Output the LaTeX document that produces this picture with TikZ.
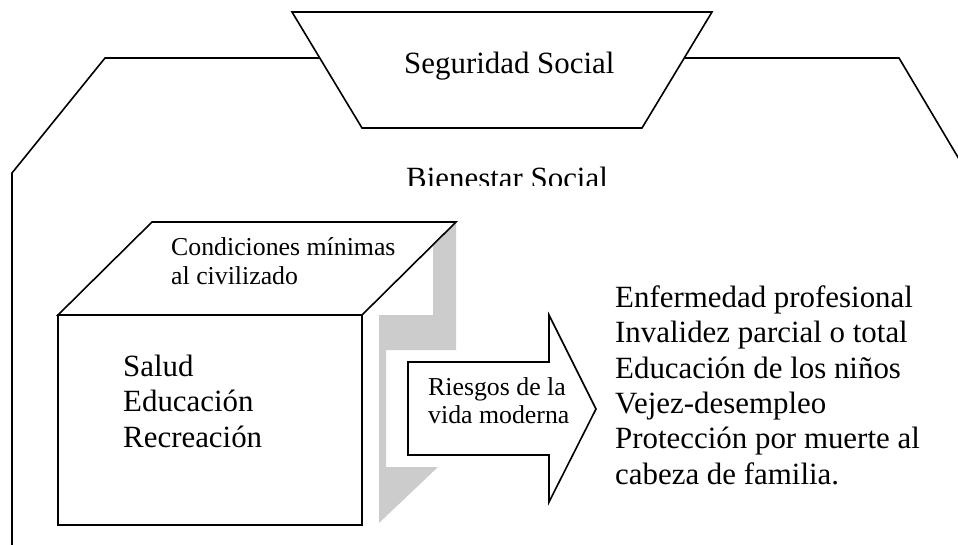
\documentclass[tikz,border=0pt]{standalone}
\usepackage{fontspec}
\setmainfont{Liberation Serif}
\definecolor{shadegray}{RGB}{204,204,204}
\begin{document}
\begin{tikzpicture}[x=1pt,y=-1pt,
  outline/.style={draw=black,line width=1.6pt,line join=miter},
  bigtxt/.style={anchor=base west,inner sep=0pt,font=\fontsize{30.9}{35.5}\selectfont},
  smalltxt/.style={anchor=base west,inner sep=0pt,font=\fontsize{25.8}{28.5}\selectfont}]
\useasboundingbox (0,0) rectangle (958,545);
\clip (0,0) rectangle (958,545);
% trapezoid corners
\coordinate (tTL) at (292,12);
\coordinate (tTR) at (712,12);
\coordinate (tBR) at (642,128);
\coordinate (tBL) at (362,128);
% outer frame
\coordinate (oB) at (12,545);
\coordinate (oL) at (12,173);
\coordinate (oTL) at (105,58);
\coordinate (oTR) at (899,58);
\coordinate (oR) at (978,191);
\draw[outline] (oB) -- (oL) -- (oTL) -- (intersection of tTL--tBL and oTL--oTR);
\draw[outline] (intersection of tTR--tBR and oTL--oTR) -- (oTR) -- (oR);
\draw[outline,fill=white] (tTL) -- (tTR) -- (tBR) -- (tBL) -- cycle;
\node[bigtxt] (seg) at (404,74) {Seguridad Social};
\begin{scope}
  \clip (0,0) rectangle (958,186);
  \node[bigtxt] (bien) at (406,189) {Bienestar Social};
\end{scope}
% shadow
\fill[shadegray] (456,222) -- (456,350) -- (386,350) -- (386,467) -- (438,467)
  -- (379,523) -- (379,315) -- (433,315) -- (433,245) -- cycle;
% cube
\coordinate (cFTL) at (58,315);
\coordinate (cFTR) at (362,315);
\coordinate (cFBR) at (362,525);
\coordinate (cFBL) at (58,525);
\coordinate (cBTL) at (152,222);
\coordinate (cBTR) at (456,222);
\draw[outline,fill=white] (cFTL) -- (cFTR) -- (cFBR) -- (cFBL) -- cycle;
\draw[outline,fill=white] (cFTL) -- (cBTL) -- (cBTR) -- (cFTR) -- cycle;
\node[smalltxt] (cond) at (171,256) {\vtop{\hbox{Condiciones mínimas}\hbox{al civilizado}}};
\node[bigtxt] (sal) at (123,376) {\vtop{\hbox{Salud}\hbox{Educación}\hbox{Recreación}}};
% arrow
\draw[outline,fill=white] (408,362) -- (549,362) -- (549,315) -- (596,409)
  -- (549,502) -- (549,455) -- (408,455) -- cycle;
\node[smalltxt] (ries) at (428,395) {\vtop{\hbox{Riesgos de la}\hbox{vida moderna}}};
% list
\node[bigtxt] (list) at (615,307) {\vtop{\hbox{Enfermedad profesional}\hbox{Invalidez parcial o total}\hbox{Educación de los niños}\hbox{Vejez-desempleo}\hbox{Protección por muerte al}\hbox{cabeza de familia.}}};
\end{tikzpicture}
\end{document}
